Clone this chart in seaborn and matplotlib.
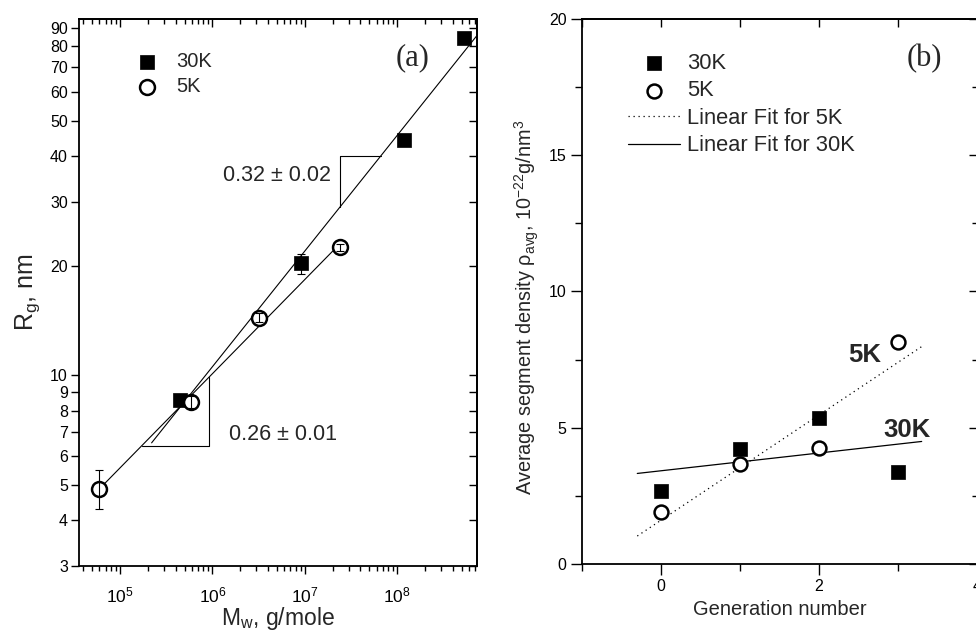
import numpy as np
import matplotlib
matplotlib.use("Agg")
import matplotlib.pyplot as plt
import seaborn as sns
from matplotlib.ticker import FixedLocator, NullLocator, MultipleLocator, LogLocator, NullFormatter

# panel (a): radius of gyration vs molecular weight
mw_30k = [4.45e5, 9.1e6, 1.19e8, 5.3e8]
rg_30k = [8.55, 20.3, 44.2, 84.5]
rg_30k_err = [0.3, 1.3, 0.0, 0.0]
mw_5k = [5.9e4, 5.8e5, 3.2e6, 2.4e7]
rg_5k = [4.89, 8.46, 14.4, 22.5]
rg_5k_err = [0.6, 0.3, 0.4, 0.5]
fit_range_30k = [2.2e5, 7.3e8]
fit_range_5k = [5.9e4, 2.4e7]
slope_label_30k = "0.32 ± 0.02"
slope_label_5k = "0.26 ± 0.01"
rg_ticks = [3, 4, 5, 6, 7, 8, 9, 10, 20, 30, 40, 50, 60, 70, 80, 90]

# panel (b): average segment density vs generation
generation = [0, 1, 2, 3]
rho_30k = [2.68, 4.22, 5.35, 3.39]
rho_5k = [1.91, 3.68, 4.27, 8.15]
lin_fit_range = [-0.3, 3.3]

sns.set_theme(style="ticks")
plt.rcParams["font.family"] = ["Liberation Sans", "DejaVu Sans"]
plt.rcParams.update({
    "mathtext.fontset": "custom",
    "mathtext.rm": "Liberation Sans",
    "mathtext.it": "Liberation Sans:italic",
    "mathtext.default": "regular",
    "axes.linewidth": 1.3,
    "axes.edgecolor": "black",
    "xtick.color": "black",
    "ytick.color": "black",
})

fig = plt.figure(figsize=(9.76, 6.33), dpi=100)
ax_a = fig.add_axes([0.0809, 0.1058, 0.4078, 0.864])
ax_b = fig.add_axes([0.5963, 0.109, 0.4047, 0.861])


def loglog_fit(x, y):
    k, b = np.polyfit(np.log10(x), np.log10(y), 1)
    return k, b


def mirror_ticks(ax, xlocs, ylocs):
    # top/right ticks point inwards, bottom/left ones outwards
    top = ax.secondary_xaxis("top")
    right = ax.secondary_yaxis("right")
    for sec, locs in ((top, xlocs), (right, ylocs)):
        axis = sec.xaxis if sec is top else sec.yaxis
        axis.set_major_locator(locs[0])
        axis.set_minor_locator(locs[1])
        axis.set_major_formatter(NullFormatter())
        axis.set_minor_formatter(NullFormatter())
        sec.tick_params(which="both", direction="in", width=1.0, color="black")
        sec.tick_params(which="major", length=6)
        sec.tick_params(which="minor", length=3.5)
    return top, right


# ---------------- panel (a) ----------------
ax = ax_a
ax.set_xscale("log")
ax.set_yscale("log")

k30, b30 = loglog_fit(mw_30k, rg_30k)
k5, b5 = loglog_fit(mw_5k, rg_5k)
xf30 = np.logspace(np.log10(fit_range_30k[0]), np.log10(fit_range_30k[1]), 50)
xf5 = np.logspace(np.log10(fit_range_5k[0]), np.log10(fit_range_5k[1]), 50)
ax.plot(xf30, 10 ** (b30 + k30 * np.log10(xf30)), color="black", lw=0.8, zorder=2)
ax.plot(xf5, 10 ** (b5 + k5 * np.log10(xf5)), color="black", lw=0.8, zorder=2)

# slope triangles
tri_x, tri_top = 2.4e7, 40.0
y_low = 10 ** (b30 + k30 * np.log10(tri_x))
x_right = 10 ** ((np.log10(tri_top) - b30) / k30)
ax.plot([tri_x, tri_x, x_right], [y_low, tri_top, tri_top], color="black", lw=0.8)
tri_y, tri_xr = 6.41, 9.2e5
x_left = 10 ** ((np.log10(tri_y) - b5) / k5)
y_up = 10 ** (b5 + k5 * np.log10(tri_xr))
ax.plot([x_left, tri_xr, tri_xr], [tri_y, tri_y, y_up], color="black", lw=0.8)

sns.scatterplot(x=mw_30k, y=rg_30k, marker="s", s=100, color="black",
                edgecolor="black", linewidth=0.5, label="30K", ax=ax, zorder=3)
sns.scatterplot(x=mw_5k, y=rg_5k, marker="o", s=115, facecolor="white",
                edgecolor="black", linewidth=1.8, label="5K", ax=ax, zorder=3)
ax.errorbar(mw_30k, rg_30k, yerr=rg_30k_err, fmt="none", ecolor="black",
            elinewidth=0.8, capsize=3, capthick=0.8, zorder=4)
ax.errorbar(mw_5k, rg_5k, yerr=rg_5k_err, fmt="none", ecolor="black",
            elinewidth=0.8, capsize=3, capthick=0.8, zorder=4)

ax.text(5e6, 35.4, slope_label_30k, fontsize=15.5, ha="center", va="center")
ax.text(5.8e6, 6.9, slope_label_5k, fontsize=15.5, ha="center", va="center")
ax.text(0.839, 0.93, "(a)", transform=ax.transAxes, fontsize=22,
        family="Liberation Serif", ha="center", va="center")

ax.set_xlim(3.6e4, 7.3e8)
ax.set_ylim(3, 95)
ax.yaxis.set_major_locator(FixedLocator(rg_ticks))
ax.yaxis.set_minor_locator(NullLocator())
ax.set_yticklabels([str(t) for t in rg_ticks])
ax.xaxis.set_major_locator(LogLocator(base=10, numticks=10))
ax.xaxis.set_minor_locator(LogLocator(base=10, subs=np.arange(2, 10), numticks=20))
ax.xaxis.set_minor_formatter(NullFormatter())
ax.tick_params(axis="y", which="both", direction="out", length=6, width=1.0,
               labelsize=11.5, pad=2)
ax.tick_params(axis="x", which="major", direction="out", length=6, width=1.0,
               labelsize=12.5, pad=8)
ax.tick_params(axis="x", which="minor", direction="out", length=3.5, width=1.0)
mirror_ticks(ax,
             (LogLocator(base=10, numticks=10),
              LogLocator(base=10, subs=np.arange(2, 10), numticks=20)),
             (FixedLocator(rg_ticks), NullLocator()))
ax.set_xlabel("M$_w$, g/mole", fontsize=16.5, labelpad=0)
ax.set_ylabel("R$_g$, nm", fontsize=18, labelpad=6)
ax.legend(loc="upper left", bbox_to_anchor=(0.12, 0.94), frameon=False,
          fontsize=14.5, handlelength=2, handletextpad=0.45, labelspacing=0.3,
          borderpad=0, borderaxespad=0)

# ---------------- panel (b) ----------------
ax = ax_b
p5 = np.polyfit(generation, rho_5k, 1)
p30 = np.polyfit(generation, rho_30k, 1)
xl = np.linspace(lin_fit_range[0], lin_fit_range[1], 20)

sns.scatterplot(x=generation, y=rho_30k, marker="s", s=88, color="black",
                edgecolor="black", linewidth=0.5, label="30K", ax=ax, zorder=3)
sns.scatterplot(x=generation, y=rho_5k, marker="o", s=100, facecolor="white",
                edgecolor="black", linewidth=1.8, label="5K", ax=ax, zorder=3)
ax.plot(xl, np.polyval(p5, xl), color="black", lw=0.9, ls=(0, (1, 3)),
        label="Linear Fit for 5K", zorder=2)
ax.plot(xl, np.polyval(p30, xl), color="black", lw=0.9,
        label="Linear Fit for 30K", zorder=2)

ax.text(2.58, 7.67, "5K", fontsize=18.5, fontweight="bold", ha="center", va="center")
ax.text(3.11, 4.92, "30K", fontsize=18.5, fontweight="bold", ha="center", va="center")
ax.text(0.866, 0.927, "(b)", transform=ax.transAxes, fontsize=22,
        family="Liberation Serif", ha="center", va="center")

ax.set_xlim(-1, 4)
ax.set_ylim(0, 20)
ax.xaxis.set_major_locator(MultipleLocator(2))
ax.xaxis.set_minor_locator(MultipleLocator(1))
ax.yaxis.set_major_locator(MultipleLocator(5))
ax.yaxis.set_minor_locator(MultipleLocator(2.5))
ax.tick_params(which="major", direction="out", length=8, width=1.0,
               labelsize=11.5, pad=3)
ax.tick_params(which="minor", direction="out", length=5, width=1.0)
mirror_ticks(ax, (MultipleLocator(1), NullLocator()),
             (MultipleLocator(5), MultipleLocator(2.5)))
ax.set_xlabel("Generation number", fontsize=14.5, labelpad=4)
ax.set_ylabel("Average segment density ρ$_{avg}$, 10$^{-22}$g/nm$^3$",
              fontsize=14.3)
ax.yaxis.set_label_coords(-0.103, 0.471)
ax.legend(loc="upper left", bbox_to_anchor=(0.116, 0.938), frameon=False,
          fontsize=15.75, handlelength=2.4, handletextpad=0.3, labelspacing=0.3,
          borderpad=0, borderaxespad=0)

fig.savefig("out.png", dpi=100)
